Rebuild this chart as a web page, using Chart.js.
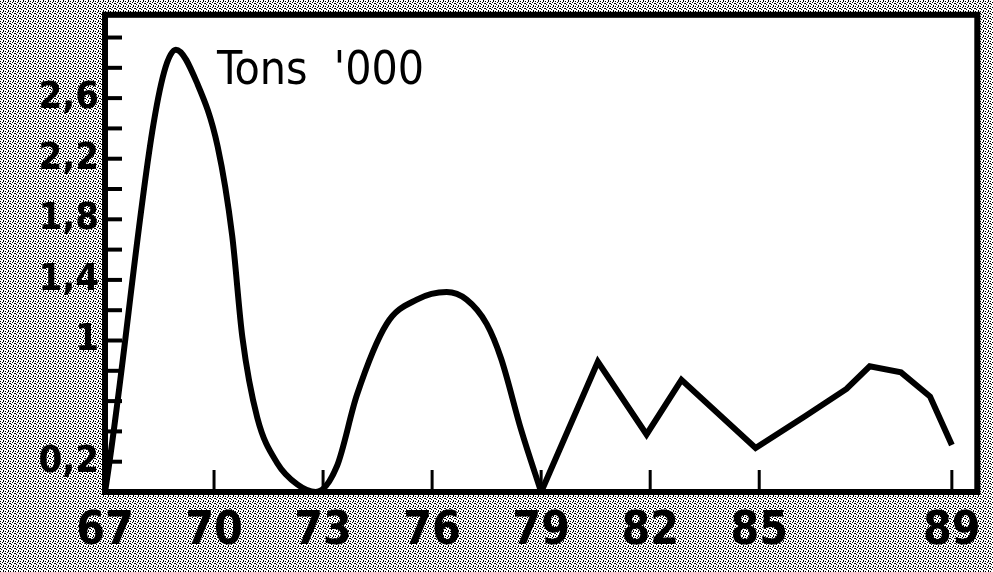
<!DOCTYPE html>
<html>
<head>
<meta charset="utf-8">
<script src="https://cdn.jsdelivr.net/npm/chart.js@4/dist/chart.umd.min.js"></script>
<style>
  html, body { margin: 0; padding: 0; background: #fff; overflow: hidden; }
  #wrap { width: 993px; height: 586px; position: relative; margin-top: -14px; }
</style>
</head>
<body>
<div id="wrap"><canvas id="tonsChart"></canvas></div>
<script>
// years (uniform scale of the first ticks), values in tons '000
const smoothYears = [67, 68.95, 69.55, 70.1, 70.5, 70.78, 71.19, 71.74, 72.29, 72.8,
                     73.38, 73.93, 74.75, 75.58, 76.4, 76.95, 77.5, 77.9, 78.45, 79];
const smoothValues = [0, 2.92, 2.69, 2.28, 1.69, 1.02, 0.49, 0.19, 0.05, 0,
                      0.17, 0.64, 1.11, 1.27, 1.32, 1.27, 1.11, 0.88, 0.41, 0];
const zigYears = [79, 80.56, 81.9, 82.86, 84.9, 86.26, 87.4, 88.04, 88.9, 89.7, 90.3];
const zigValues = [0, 0.86, 0.38, 0.74, 0.29, 0.5, 0.68, 0.83, 0.79, 0.63, 0.31];

// axis ticks: the printed '89' sits further right than the scale implies
const xTickPos = [67, 70, 73, 76, 79, 82, 85, 90.3];
const xTickLabels = ['67', '70', '73', '76', '79', '82', '85', '89'];
const yTickLabels = [0.2, 1, 1.4, 1.8, 2.2, 2.6];

const toPoints = (xs, ys) => xs.map((x, i) => ({ x: x, y: ys[i] }));
const narrow = '"Liberation Sans Narrow", "DejaVu Sans Condensed", sans-serif';

// grainy newsprint background outside the plot
function makeGrain() {
    const c = document.createElement('canvas');
    c.width = 5; c.height = 5;
    const g = c.getContext('2d');
    g.fillStyle = '#fff';
    g.fillRect(0, 0, 5, 5);
    g.fillStyle = '#000';
    [[0,0],[2,1],[4,2],[1,3],[3,4],[3,0],[0,2]].forEach(p => g.fillRect(p[0], p[1], 1, 1));
    return c;
}

const framePlugin = {
    id: 'frame',
    beforeDraw(chart) {
        const ctx = chart.ctx;
        const a = chart.chartArea;
        ctx.save();
        ctx.fillStyle = ctx.createPattern(makeGrain(), 'repeat');
        ctx.fillRect(0, 0, chart.width, chart.height);
        ctx.fillStyle = '#fff';
        ctx.fillRect(a.left, a.top, a.right - a.left, a.bottom - a.top);
        ctx.restore();
    },
    afterDraw(chart) {
        const ctx = chart.ctx;
        const a = chart.chartArea;
        const xs = chart.scales.x, ys = chart.scales.y;
        ctx.save();
        ctx.strokeStyle = '#000';
        ctx.lineWidth = 6;
        ctx.strokeRect(a.left, a.top, a.right - a.left, a.bottom - a.top);
        // inward y ticks every 0.2
        ctx.lineWidth = 4;
        ys.ticks.forEach(t => {
            if (t.value <= 0.01 || t.value > 3.05) return;
            const y = ys.getPixelForValue(t.value);
            ctx.beginPath();
            ctx.moveTo(a.left, y);
            ctx.lineTo(a.left + 17, y);
            ctx.stroke();
        });
        // inward x ticks
        ctx.lineWidth = 3;
        xTickPos.slice(1).forEach(v => {
            const x = xs.getPixelForValue(v);
            ctx.beginPath();
            ctx.moveTo(x, a.bottom);
            ctx.lineTo(x, a.bottom - 22);
            ctx.stroke();
        });
        ctx.fillStyle = '#000';
        ctx.font = '46px ' + narrow;
        ctx.textBaseline = 'top';
        ctx.fillText("Tons  '000", a.left + 112, a.top + 34);
        ctx.restore();
    }
};

const ctx = document.getElementById('tonsChart').getContext('2d');
new Chart(ctx, {
    type: 'line',
    data: {
        datasets: [{
            data: toPoints(smoothYears, smoothValues),
            borderColor: '#000',
            borderWidth: 6,
            pointRadius: 0,
            tension: 0.4,
            cubicInterpolationMode: 'monotone'
        }, {
            data: toPoints(zigYears, zigValues),
            borderColor: '#000',
            borderWidth: 6,
            pointRadius: 0,
            tension: 0
        }]
    },
    options: {
        responsive: true,
        maintainAspectRatio: false,
        animation: false,
        layout: { padding: { top: 0, right: 12, left: 0, bottom: 0 } },
        plugins: { legend: { display: false }, tooltip: { enabled: false } },
        scales: {
            x: {
                type: 'linear',
                min: 67,
                max: 91,
                afterBuildTicks: s => { s.ticks = xTickPos.map(v => ({ value: v })); },
                afterFit: s => { s.height = 80; },
                grid: { display: false, drawTicks: false },
                border: { display: false },
                ticks: {
                    autoSkip: false,
                    maxRotation: 0,
                    padding: 12,
                    color: '#000',
                    font: { family: narrow, size: 46, weight: 'bold' },
                    callback: (v, i) => xTickLabels[i]
                }
            },
            y: {
                min: 0,
                max: 3.15,
                afterFit: s => { s.width = 105; },
                afterBuildTicks: s => {
                    const t = [];
                    for (let k = 0; k <= 15; k++) t.push({ value: Math.round(k * 2) / 10 });
                    s.ticks = t;
                },
                grid: { display: false, drawTicks: false },
                border: { display: false },
                ticks: {
                    autoSkip: false,
                    padding: 6,
                    color: '#000',
                    font: { family: narrow, size: 38, weight: 'bold' },
                    callback: v => {
                        const hit = yTickLabels.find(l => Math.abs(l - v) < 0.001);
                        return hit === undefined ? '' : String(hit).replace('.', ',');
                    }
                }
            }
        }
    },
    plugins: [framePlugin]
});
</script>
</body>
</html>
